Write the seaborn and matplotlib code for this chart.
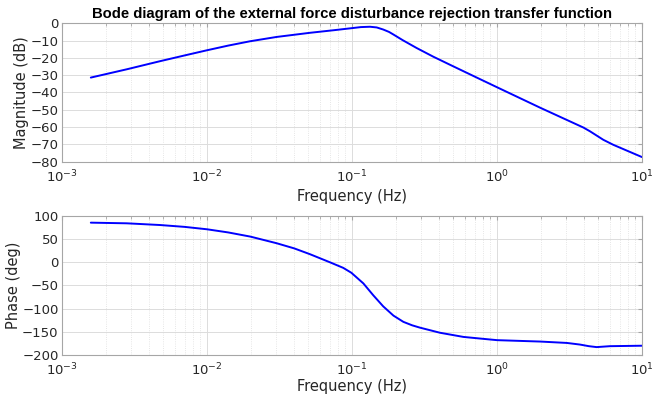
import numpy as np
import seaborn as sns
import matplotlib.pyplot as plt
from matplotlib.ticker import LogLocator, MultipleLocator, NullFormatter

# values
mag_freq = [0.00158, 0.0028, 0.0047, 0.0070, 0.0100, 0.0140, 0.0198, 0.0302,
            0.0513, 0.0750, 0.100, 0.115, 0.133, 0.148, 0.164, 0.180, 0.193,
            0.224, 0.279, 0.363, 0.474, 0.700, 1.00, 1.98, 3.94, 4.38, 5.41,
            6.34, 10.0]
mag_db = [-31.4, -26.6, -22.0, -18.6, -15.6, -12.9, -10.4, -7.9,
          -5.5, -4.0, -2.8, -2.2, -2.0, -2.4, -3.6, -5.0, -6.5,
          -9.8, -14.3, -19.3, -24.0, -30.8, -37.0, -48.8, -60.3, -62.5, -67.4,
          -70.3, -77.4]

phase_freq = [0.00158, 0.00279, 0.00474, 0.0070, 0.0100, 0.0140, 0.0199, 0.0302,
              0.0400, 0.0513, 0.0705, 0.0870, 0.0989, 0.1197, 0.140, 0.164,
              0.193, 0.226, 0.260, 0.294, 0.404, 0.586, 0.763, 1.00, 1.98, 3.03,
              3.73, 4.30, 4.86, 6.00, 10.0]
phase_deg = [85.6, 84.2, 80.5, 76.5, 71.3, 64.5, 55.5, 41.2,
             30.0, 17.5, 0.0, -12.0, -22.5, -45.5, -71.0, -95.0,
             -115.0, -128.5, -136.0, -141.0, -152.0, -161.0, -164.5, -168.0, -171.0, -174.0,
             -177.5, -181.0, -183.0, -181.0, -180.0]

title = "Bode diagram of the external force disturbance rejection transfer function"

sns.set_style("white")
plt.rcParams["font.family"] = ["DejaVu Sans"]
plt.rcParams["mathtext.fontset"] = "dejavusans"

fig = plt.figure(figsize=(6.69, 4.05), dpi=100)
ax1 = fig.add_axes([0.0927, 0.601, 0.867, 0.3415])
ax2 = fig.add_axes([0.0927, 0.1235, 0.867, 0.3432])

sns.lineplot(x=mag_freq, y=mag_db, ax=ax1, color="blue", lw=1.4, estimator=None)
sns.lineplot(x=phase_freq, y=phase_deg, ax=ax2, color="blue", lw=1.4, estimator=None)

txt = "#262626"
for ax, ylab, ylim, step, xpad, ypad in [(ax1, "Magnitude (dB)", (-80, 0), 10, 3, 1),
                                         (ax2, "Phase (deg)", (-200, 100), 50, 0.5, 0.5)]:
    ax.set_xscale("log")
    ax.set_xlim(1e-3, 10)
    ax.set_ylim(*ylim)
    ax.yaxis.set_major_locator(MultipleLocator(step))
    ax.xaxis.set_major_locator(LogLocator(base=10, numticks=10))
    ax.xaxis.set_minor_locator(LogLocator(base=10, subs=np.arange(2, 10), numticks=20))
    ax.xaxis.set_minor_formatter(NullFormatter())
    ax.grid(True, which="major", color="#dcdcdc", lw=0.7)
    ax.grid(True, which="minor", axis="x", color="#dedede", lw=0.6, ls=":")
    ax.set_axisbelow(True)
    for s in ax.spines.values():
        s.set_color("#a6a6a6")
        s.set_linewidth(0.8)
    ax.tick_params(axis="both", which="both", direction="in", colors="#a6a6a6",
                   labelcolor=txt, labelsize=9.5, top=True, right=True)
    ax.tick_params(axis="y", pad=2.5)
    ax.tick_params(axis="x", pad=5)
    ax.tick_params(which="major", length=3)
    ax.tick_params(which="minor", length=2)
    ax.set_xlabel("Frequency (Hz)", fontsize=10.5, color=txt, labelpad=xpad)
    ax.set_ylabel(ylab, fontsize=10.5, color=txt, labelpad=ypad)

ax1.set_title(title, fontsize=10.7, fontweight="bold", color="black", pad=4,
              family=["Liberation Sans", "DejaVu Sans"])

fig.savefig("out.png", dpi=100)
